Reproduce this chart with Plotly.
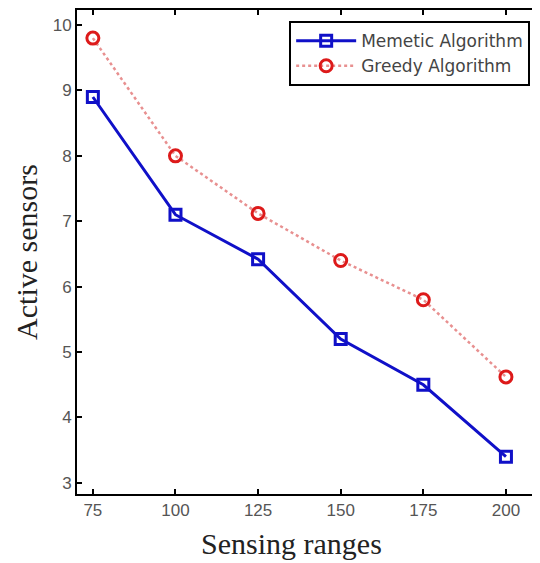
import plotly.graph_objects as go

sensing_ranges = [75, 100, 125, 150, 175, 200]
memetic = [8.9, 7.1, 6.42, 5.2, 4.5, 3.4]
greedy = [9.8, 8.0, 7.12, 6.4, 5.8, 4.62]
x_ticks = [75, 100, 125, 150, 175, 200]
y_ticks = [3, 4, 5, 6, 7, 8, 9, 10]

fig = go.Figure()
fig.add_trace(go.Scatter(
    x=sensing_ranges, y=memetic, name="Memetic Algorithm",
    mode="lines+markers",
    line=dict(color="#1010c8", width=3),
    marker=dict(symbol="square-open", size=11, color="#1010c8", line=dict(width=3)),
))
fig.add_trace(go.Scatter(
    x=sensing_ranges, y=greedy, name="Greedy Algorithm",
    mode="lines+markers",
    line=dict(color="#e89090", width=2.5, dash="dot"),
    marker=dict(symbol="circle-open", size=12, color="#dd1a1a", line=dict(width=3)),
))

axis_common = dict(
    showline=True, linecolor="black", linewidth=2, mirror="ticks",
    ticks="inside", ticklen=5, tickcolor="black", tickwidth=1.5,
    showgrid=False, zeroline=False, automargin=False,
    tickfont=dict(family="Liberation Sans, Arial", size=17, color="#555555"),
)

fig.update_layout(
    width=540, height=563,
    margin=dict(l=69, r=10, t=2, b=77),
    paper_bgcolor="white", plot_bgcolor="white",
    xaxis=dict(range=[70.2, 209.7], tickvals=x_ticks, **axis_common),
    yaxis=dict(range=[2.83, 10.23], tickvals=y_ticks,
               title=dict(text="Active sensors", standoff=6,
                          font=dict(family="Liberation Serif, Times New Roman", size=30, color="#222222")),
               **axis_common),
    legend=dict(x=0.983, y=0.977, xanchor="right", yanchor="top",
                bordercolor="black", borderwidth=2, bgcolor="white",
                font=dict(family="DejaVu Sans, Liberation Sans", size=17, color="#444444"),
                tracegroupgap=0, itemwidth=60),
    showlegend=True,
    annotations=[dict(
        text="Sensing ranges", xref="paper", yref="paper",
        x=0.465, y=0, xanchor="center", yanchor="middle", yshift=-49,
        showarrow=False,
        font=dict(family="Liberation Serif, Times New Roman", size=30, color="#222222"),
    )],
)

fig.write_html("out.html")
